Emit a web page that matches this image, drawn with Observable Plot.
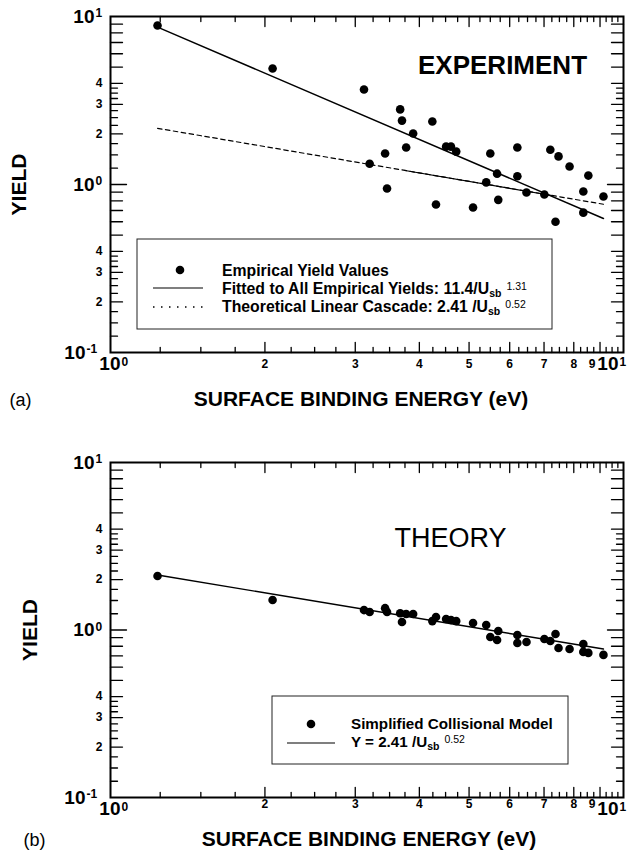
<!DOCTYPE html>
<html><head><meta charset="utf-8">
<script src="https://cdn.jsdelivr.net/npm/d3@7"></script>
<script src="https://cdn.jsdelivr.net/npm/@observablehq/plot@0.6"></script>
<style>
body{margin:0;background:#fff;}
#wrap{width:636px;height:860px;position:relative;overflow:hidden;background:#fff;}
#wrap svg{display:block;}
</style></head><body><div id="wrap"></div>
<script>
// ---- data ----
const energy = [1.235,2.07,3.12,3.20,3.43,3.46,3.67,3.70,3.77,3.89,4.24,4.31,4.51,4.61,4.72,5.09,5.40,5.50,5.67,5.70,6.21,6.21,6.47,7.01,7.20,7.37,7.47,7.85,8.35,8.35,8.54,9.14];
const yieldEmpirical = [8.84,4.90,3.68,1.33,1.53,0.946,2.80,2.40,1.66,2.01,2.37,0.76,1.68,1.68,1.57,0.73,1.03,1.53,1.16,0.81,1.66,1.12,0.896,0.872,1.61,0.60,1.47,1.28,0.908,0.68,1.13,0.848];
const yieldModel = [2.10,1.51,1.315,1.28,1.35,1.28,1.26,1.116,1.245,1.245,1.13,1.195,1.163,1.147,1.13,1.10,1.07,0.908,0.872,0.986,0.934,0.837,0.848,0.884,0.86,0.947,0.78,0.77,0.825,0.74,0.73,0.71];
const fitE = [1.235, 9.14], fitY = [8.65, 0.628];
const cascadeE = [1.235, 9.14], cascadeY = [2.16, 0.763];
const cascadeSolidE = [3.75, 7.3], cascadeSolidY = [1.212, 0.857];
const modelLineE = [1.235, 9.14], modelLineY = [2.13, 0.77];
const xTickVals = [2,3,4,5,6,7,8];
const xTickLast = [9];
const yTickVals = [4,3,2,0.4,0.3,0.2];
const yTickText = ["4","3","2","4","3","2"];
const xTitle = "SURFACE BINDING ENERGY (eV)";
const yTitle = "YIELD";

const FONT = "'Liberation Sans', Arial, Helvetica, sans-serif";
const tickShape = {draw(ctx, l){ ctx.moveTo(0,0); ctx.lineTo(0,-l); }};
const tbl = (xs, ys) => xs.map((e,i)=>({e, y: ys[i]}));

function axisMarks(o){
  const m = [];
  const xInt = [2,3,4,5,6,7,8,9];
  const xQ = d3.range(1.25, 10, 0.25).filter(v => v % 1 !== 0);
  const yDec = [1];
  const yInt = [2,3,4,5,6,7,8,9].flatMap(v => [v*0.1, v]);
  const yMin = [1.25,1.5,1.75,2.25,2.5,2.75,3.25,3.5,3.75].flatMap(v => [v*0.1, v]);
  const vec = (data, ch, anchor, rot, len) => Plot.vector(data, {[ch]: d=>d, frameAnchor: anchor, rotate: rot, length: len, anchor: "start", shape: tickShape, stroke: "black", strokeWidth: 1.3});
  for (const [a, r] of [["bottom",0],["top",180]]) {
    m.push(vec(xInt, "x", a, r, 10), vec(xQ, "x", a, r, 5));
  }
  for (const [a, r] of [["left",90],["right",-90]]) {
    m.push(vec(yDec, "y", a, r, 16), vec(yInt, "y", a, r, 12), vec(yMin, "y", a, r, 7));
  }
  const tx = {fontFamily: FONT, fontWeight: "bold", fill: "black"};
  // y tick labels
  m.push(Plot.text(yTickVals, {...tx, y: d=>d, text: (d,i)=>yTickText[i], frameAnchor: "left", dx: -8, textAnchor: "end", fontSize: 12}));
  m.push(Plot.text([10, 1], {...tx, y: d=>d, text: ()=>"10", frameAnchor: "left", dx: -16, textAnchor: "end", fontSize: 19}));
  m.push(Plot.text([10, 1], {...tx, y: d=>d, text: d=> d===10 ? "1" : "0", frameAnchor: "left", dx: -15, dy: -3, textAnchor: "start", fontSize: 12}));
  m.push(Plot.text([0.1], {...tx, y: d=>d, text: ()=>"10", frameAnchor: "left", dx: -25, textAnchor: "end", fontSize: 19}));
  m.push(Plot.text([0.1], {...tx, y: d=>d, text: ()=>"-1", frameAnchor: "left", dx: -24, dy: -3, textAnchor: "start", fontSize: 12}));
  // x tick labels
  m.push(Plot.text(xTickVals, {...tx, x: d=>d, text: d=>String(d), frameAnchor: "bottom", dy: o.xLabDy, textAnchor: "middle", fontSize: 12}));
  m.push(Plot.text(xTickLast, {...tx, x: d=>d, text: d=>String(d), frameAnchor: "bottom", dy: o.xLabDy, dx: -8, textAnchor: "middle", fontSize: 12}));
  m.push(Plot.text([1], {...tx, x: d=>d, text: ()=>"10", frameAnchor: "bottom", dy: o.xDecDy, dx: 10, textAnchor: "end", fontSize: 19}));
  m.push(Plot.text([1], {...tx, x: d=>d, text: ()=>"0", frameAnchor: "bottom", dy: o.xDecDy-4, dx: 11, textAnchor: "start", fontSize: 12}));
  m.push(Plot.text([10], {...tx, x: d=>d, text: ()=>"10", frameAnchor: "bottom", dy: o.xDecDy, dx: -5, textAnchor: "end", fontSize: 19}));
  m.push(Plot.text([10], {...tx, x: d=>d, text: ()=>"1", frameAnchor: "bottom", dy: o.xDecDy-4, dx: -4, textAnchor: "start", fontSize: 12}));
  // titles
  m.push(Plot.text([1], {...tx, y: d=>d, text: ()=>yTitle, frameAnchor: "left", dx: o.yTitleDx, rotate: -90, textAnchor: "middle", fontSize: 21}));
  m.push(Plot.text([xTitle], {...tx, text: d=>d, frameAnchor: "bottom", dx: o.xTitleDx, dy: o.xTitleDy, textAnchor: "middle", fontSize: 21}));
  m.push(Plot.text([o.panel], {fontFamily: FONT, fill: "black", text: d=>d, frameAnchor: "bottom-left", dx: o.panelDx, dy: o.xTitleDy, textAnchor: "middle", fontSize: 18}));
  m.push(Plot.frame({stroke: "black", strokeWidth: 2}));
  return m;
}

function addLegend(svg, box, fs, items){
  const g = d3.select(svg).append("g").attr("font-family", FONT).attr("font-weight", "bold")
    .attr("fill", "black").attr("text-anchor", "start");
  g.append("rect").attr("x", box.x).attr("y", box.y).attr("width", box.w).attr("height", box.h)
    .attr("fill", "white").attr("stroke", "#222").attr("stroke-width", 1);
  for (const it of items) {
    if (it.kind === "dot") g.append("circle").attr("cx", it.sx).attr("cy", it.sy).attr("r", 4.3).attr("fill", "black");
    else g.append("line").attr("x1", it.sx1).attr("x2", it.sx2).attr("y1", it.sy).attr("y2", it.sy)
      .attr("stroke", "black").attr("stroke-width", it.kind === "dot-line" ? 1.4 : 1.1)
      .attr("stroke-dasharray", it.kind === "dot-line" ? "1.5,6.5" : null);
    const t = g.append("text").attr("x", it.tx).attr("y", it.ty).attr("font-size", fs).attr("text-anchor", "start");
    t.append("tspan").text(it.parts[0]);
    if (it.parts.length > 1) {
      t.append("tspan").attr("font-size", 10.5).attr("dy", 3).text(it.parts[1]);
      t.append("tspan").attr("font-size", 10.5).attr("dy", -7).attr("dx", 5).attr("font-weight", "normal").text(it.parts[2]);
    }
  }
}

const wrap = document.getElementById("wrap");

// ---- panel (a) ----
const plotA = Plot.plot({
  width: 636, height: 430,
  marginLeft: 110, marginRight: 13, marginTop: 16, marginBottom: 78,
  x: {type: "log", domain: [1, 10], axis: null},
  y: {type: "log", domain: [0.1, 10], axis: null},
  style: {fontFamily: FONT, background: "white", overflow: "visible"},
  marks: [
    Plot.line(tbl(cascadeE, cascadeY), {x: "e", y: "y", stroke: "black", strokeWidth: 1.2, strokeDasharray: "4.5,3.5"}),
    Plot.line(tbl(cascadeSolidE, cascadeSolidY), {x: "e", y: "y", stroke: "black", strokeWidth: 1.2}),
    Plot.line(tbl(fitE, fitY), {x: "e", y: "y", stroke: "black", strokeWidth: 1.5}),
    Plot.dot(tbl(energy, yieldEmpirical), {x: "e", y: "y", r: 4.3, fill: "black"}),
    Plot.text(["EXPERIMENT"], {text: d=>d, frameAnchor: "top-left", dx: 392, dy: 39, textAnchor: "middle", fontSize: 26, fontWeight: "bold", fontFamily: FONT, fill: "black"}),
    ...axisMarks({xLabDy: 15, xDecDy: 17, yTitleDx: -91, xTitleDx: -6, xTitleDy: 53, panel: "(a)", panelDx: -90})
  ]
});
addLegend(plotA, {x: 137, y: 239, w: 415, h: 90}, 15.8, [
  {kind: "dot", sx: 180, sy: 270, tx: 222, ty: 276, parts: ["Empirical Yield Values"]},
  {kind: "line", sx1: 153, sx2: 203, sy: 288, tx: 222, ty: 294, parts: ["Fitted to All Empirical Yields: 11.4/U", "sb", "1.31"]},
  {kind: "dot-line", sx1: 153, sx2: 203, sy: 307, tx: 222, ty: 312, parts: ["Theoretical Linear Cascade: 2.41 /U", "sb", "0.52"]}
]);
wrap.appendChild(plotA);

// ---- panel (b) ----
const plotB = Plot.plot({
  width: 636, height: 430,
  marginLeft: 110, marginRight: 13, marginTop: 32, marginBottom: 63,
  x: {type: "log", domain: [1, 10], axis: null},
  y: {type: "log", domain: [0.1, 10], axis: null},
  style: {fontFamily: FONT, background: "white", overflow: "visible"},
  marks: [
    Plot.line(tbl(modelLineE, modelLineY), {x: "e", y: "y", stroke: "black", strokeWidth: 1.4}),
    Plot.dot(tbl(energy, yieldModel), {x: "e", y: "y", r: 4.3, fill: "black"}),
    Plot.text(["THEORY"], {text: d=>d, frameAnchor: "top-left", dx: 340, dy: 65, textAnchor: "middle", fontSize: 27, fontFamily: FONT, fill: "black"}),
    ...axisMarks({xLabDy: 10.5, xDecDy: 17, yTitleDx: -80, xTitleDx: 2, xTitleDy: 48, panel: "(b)", panelDx: -76})
  ]
});
addLegend(plotB, {x: 272, y: 266, w: 296, h: 68}, 15.2, [
  {kind: "dot", sx: 311, sy: 294, tx: 351, ty: 299, parts: ["Simplified Collisional Model"]},
  {kind: "line", sx1: 287, sx2: 335, sy: 313, tx: 351, ty: 317, parts: ["Y = 2.41 /U", "sb", "0.52"]}
]);
wrap.appendChild(plotB);
</script>
</body></html>
